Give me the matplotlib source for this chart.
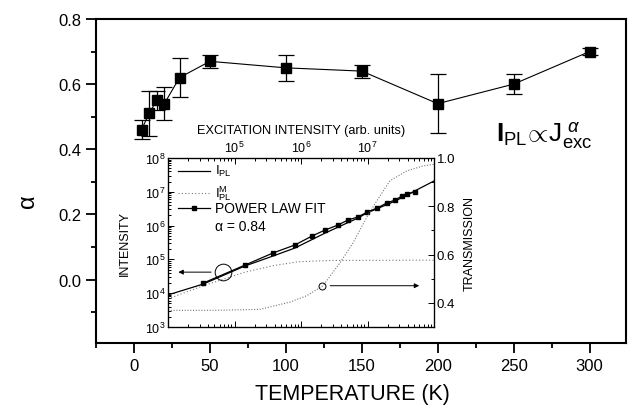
import matplotlib
matplotlib.use("Agg")
import matplotlib.pyplot as plt
from matplotlib.ticker import MultipleLocator, LogLocator, NullFormatter, FixedLocator

plt.rcParams['font.family'] = ['Liberation Sans', 'DejaVu Sans']
plt.rcParams['mathtext.fontset'] = 'custom'
plt.rcParams['mathtext.rm'] = 'Liberation Sans'
plt.rcParams['mathtext.it'] = 'Liberation Sans:italic'
plt.rcParams['mathtext.bf'] = 'Liberation Sans:bold'

# ---- main panel: alpha vs temperature ----
temperature = [5, 10, 15, 20, 30, 50, 100, 150, 200, 250, 300]
alpha = [0.46, 0.51, 0.55, 0.54, 0.62, 0.67, 0.65, 0.64, 0.54, 0.60, 0.70]
alpha_err = [0.03, 0.07, 0.03, 0.05, 0.06, 0.02, 0.04, 0.02, 0.09, 0.03, 0.01]

# ---- inset: intensity vs excitation (log-log) ----
fit_exc = [3.4e4, 1.44e5, 3.8e5, 8.1e5, 1.46e6, 2.3e6, 3.6e6, 5.1e6, 7.2e6,
           9.8e6, 1.39e7, 1.96e7, 2.6e7, 3.3e7, 3.9e7, 5.2e7]
fit_int = [2.0e4, 6.8e4, 1.55e5, 2.67e5, 4.9e5, 7.4e5, 1.04e6, 1.47e6, 1.8e6,
           2.5e6, 3.3e6, 4.7e6, 5.7e6, 7.5e6, 8.6e6, 9.9e6]
ipl_exc = [1e4, 3.4e4, 1.44e5, 3.8e5, 8.1e5, 2.3e6, 7.2e6, 9.8e6, 2.6e7, 1e8]
ipl_int = [8.9e3, 1.87e4, 6.4e4, 1.26e5, 2.17e5, 6.0e5, 1.68e6, 2.36e6, 5.3e6, 2.09e7]
ipm_exc = [1e4, 3.4e4, 1.44e5, 3.8e5, 9.0e5, 2.7e6, 1e8]
ipm_int = [6.8e3, 1.66e4, 4.2e4, 6.5e4, 8.5e4, 9.3e4, 9.5e4]
trans_exc = [1e4, 5e4, 2.4e5, 6.8e5, 1.23e6, 2.14e6, 3.86e6, 6.05e6, 9.8e6,
             1.39e7, 2.18e7, 3.93e7, 6.84e7, 1e8]
transmission = [0.369, 0.369, 0.373, 0.403, 0.430, 0.471, 0.566, 0.648, 0.756,
                0.824, 0.906, 0.947, 0.967, 0.974]

fig = plt.figure(figsize=(6.29, 4.14), dpi=100)
ax = fig.add_axes([96 / 629, 1 - 344 / 414, 530 / 629, 324 / 414])

ax.errorbar(temperature, alpha, yerr=alpha_err, fmt='s-', color='black',
            lw=0.8, ms=7, elinewidth=0.9, capsize=6, capthick=0.9)
ax.set_xlim(-25, 324)
ax.set_ylim(-0.195, 0.8)
ax.xaxis.set_major_locator(MultipleLocator(50))
ax.xaxis.set_minor_locator(MultipleLocator(25))
ax.yaxis.set_major_locator(MultipleLocator(0.2))
ax.yaxis.set_minor_locator(MultipleLocator(0.1))
ax.yaxis.set_major_formatter(matplotlib.ticker.FormatStrFormatter('%.1f'))
ax.tick_params(which='major', direction='out', length=7, width=1.3, labelsize=12)
ax.tick_params(which='minor', direction='out', length=3.5, width=1.3)
for s in ax.spines.values():
    s.set_linewidth(1.5)
ax.set_xlabel('TEMPERATURE (K)', fontsize=15.5)
ax.xaxis.set_label_coords(0.483, -0.123)
ax.set_ylabel('α', fontsize=17)
ax.yaxis.set_label_coords(-0.107, 0.44)

ax.text(0.755, 0.645, r'$\mathbf{I}_{\mathrm{PL}}\!\propto\!\mathrm{J}_{\mathrm{exc}}^{\ \alpha}$',
        transform=ax.transAxes, fontsize=19, ha='left', va='center')

# ---- inset ----
axi = fig.add_axes([168 / 629, 1 - 328 / 414, 266 / 629, 169 / 414], zorder=5)
axi.set_facecolor('white')
axi.set_xscale('log')
axi.set_yscale('log')
axi.set_xlim(1e4, 1e8)
axi.set_ylim(1e3, 1e8)

axi.plot(ipl_exc, ipl_int, color='black', lw=0.9)
axi.plot(ipm_exc, ipm_int, color='#777777', lw=0.8, ls=(0, (1, 2)))
axi.plot(fit_exc, fit_int, color='black', lw=0.9, marker='s', ms=3.5)

# open circle + arrow pointing to the left axis
axi.plot([6.8e4], [4.2e4], 'o', mfc='none', mec='black', ms=12, mew=0.7)
axi.annotate('', xy=(1.3e4, 4.2e4), xytext=(4.9e4, 4.2e4),
             arrowprops=dict(arrowstyle='-|>', color='black', lw=0.7,
                             mutation_scale=7))

axi.xaxis.set_ticks_position('both')
axi.xaxis.set_label_position('top')
axi.xaxis.set_major_locator(FixedLocator([1e5, 1e6, 1e7]))
axi.xaxis.set_minor_locator(LogLocator(base=10, subs=range(2, 10), numticks=20))
axi.xaxis.set_minor_formatter(NullFormatter())
axi.yaxis.set_major_locator(LogLocator(base=10, numticks=10))
axi.yaxis.set_minor_locator(LogLocator(base=10, subs=range(2, 10), numticks=20))
axi.yaxis.set_minor_formatter(NullFormatter())
axi.tick_params(which='both', direction='in', width=0.7, labelsize=9,
                labelbottom=False, labeltop=True, pad=2)
axi.tick_params(which='major', length=4)
axi.tick_params(which='minor', length=2)
for s in axi.spines.values():
    s.set_linewidth(0.9)
axi.set_xlabel('EXCITATION INTENSITY (arb. units)', fontsize=9.2, labelpad=5)
axi.set_ylabel('INTENSITY', fontsize=9, labelpad=10)

axr = axi.twinx()
axr.set_ylim(0.3, 1.0)
axr.plot(trans_exc, transmission, color='#777777', lw=0.8, ls=(0, (1, 1.5)))
axr.plot([2.1e6], [0.471], 'o', mfc='none', mec='black', ms=5, mew=0.7)
axr.annotate('', xy=(6.6e7, 0.471), xytext=(2.5e6, 0.471),
             arrowprops=dict(arrowstyle='-|>', color='black', lw=0.7,
                             mutation_scale=7))
axr.yaxis.set_major_locator(MultipleLocator(0.2))
axr.yaxis.set_minor_locator(MultipleLocator(0.1))
axr.yaxis.set_major_formatter(matplotlib.ticker.FormatStrFormatter('%.1f'))
axr.tick_params(which='both', direction='in', width=0.7, labelsize=9.5, pad=2)
axr.tick_params(which='major', length=4)
axr.tick_params(which='minor', length=2)
axr.set_ylabel('TRANSMISSION', fontsize=9, labelpad=6)

# hand-placed legend (axes coordinates)
leg_x = [0.038, 0.158]
leg_text_x = 0.178
leg_rows = [0.925, 0.795, 0.705]
axi.plot(leg_x, [leg_rows[0]] * 2, transform=axi.transAxes, color='black', lw=0.9)
axi.plot(leg_x, [leg_rows[1]] * 2, transform=axi.transAxes, color='#777777',
         lw=0.8, ls=(0, (1, 2)))
axi.plot(leg_x, [leg_rows[2]] * 2, transform=axi.transAxes, color='black', lw=0.9)
axi.plot([sum(leg_x) / 2], [leg_rows[2]], transform=axi.transAxes, color='black',
         marker='s', ms=3.5)
axi.text(leg_text_x, leg_rows[0], r'I$_{\mathrm{PL}}$', transform=axi.transAxes,
         fontsize=9.5, va='center')
axi.text(leg_text_x, leg_rows[1], r'I$^{\mathrm{M}}_{\mathrm{PL}}$', transform=axi.transAxes,
         fontsize=9.5, va='center')
axi.text(leg_text_x, leg_rows[2], 'POWER LAW FIT', transform=axi.transAxes,
         fontsize=10, va='center')
axi.text(leg_text_x, 0.6, 'α = 0.84', transform=axi.transAxes, fontsize=10,
         ha='left', va='center')

fig.savefig('out.png', dpi=100)
